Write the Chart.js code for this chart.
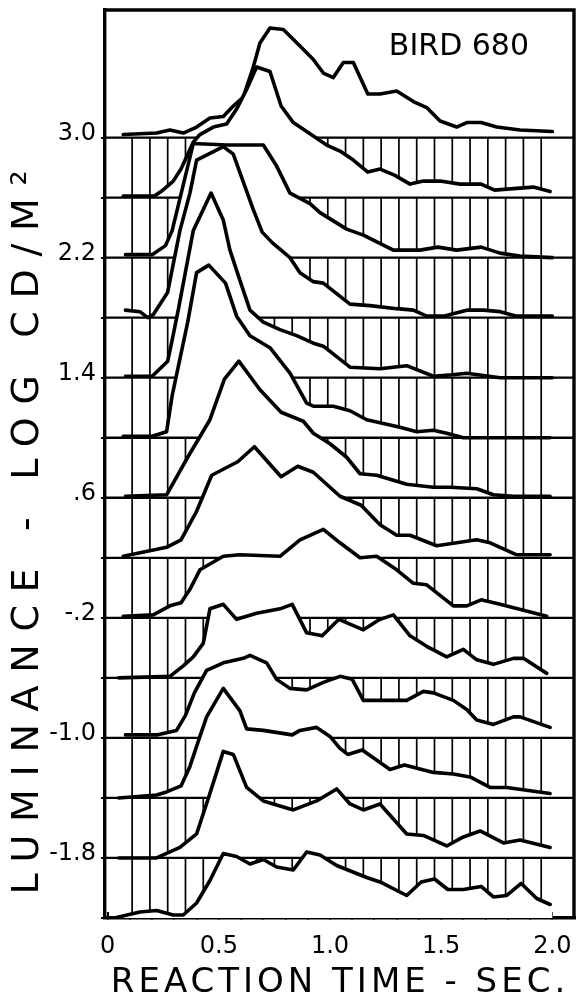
<!doctype html>
<html>

<head>
    <meta charset="utf-8">
    <script src="https://cdn.jsdelivr.net/npm/chart.js@4.4.1/dist/chart.umd.min.js"></script>
    <style>
        html, body {
            margin: 0;
            padding: 0;
            background: #fff;
        }

        canvas {
            display: block;
        }
    </style>
</head>

<body>
    <canvas id="chart" width="576" height="1004"></canvas>
    <script>
        // baseline of each distribution, log cd/m2 (top curve first)
        const luminance = [3.0, 2.6, 2.2, 1.8, 1.4, 1.0, 0.6, 0.2, -0.2, -0.6, -1.0, -1.4, -1.8, -2.2];
        const yTickLabels = ['3.0', '', '2.2', '', '1.4', '', '.6', '', '-.2', '', '-1.0', '', '-1.8', ''];

        const xTickValues = [0, 0.1, 0.2, 0.3, 0.4, 0.5, 0.6, 0.7, 0.8, 0.9, 1.0,
            1.1, 1.2, 1.3, 1.4, 1.5, 1.6, 1.7, 1.8, 1.9, 2.0];
        const xTickLabels = ['0', '', '', '', '', '0.5', '', '', '', '', '1.0',
            '', '', '', '', '1.5', '', '', '', '', '2.0'];

        // times of the vertical hatch strokes under each baseline
        const hatchTimes = [0.11, 0.19, 0.27, 0.35, 0.43, 0.51, 0.59, 0.67, 0.75, 0.83, 0.91, 0.99,
            1.07, 1.15, 1.23, 1.31, 1.39, 1.47, 1.55, 1.63, 1.71, 1.79, 1.87, 1.95];

        // [reaction time (s), height above own baseline (log units)]
        const rtLum30 = [[0.07, 0.02], [0.22, 0.03], [0.28, 0.05], [0.34, 0.03], [0.40, 0.07], [0.46, 0.13],
            [0.52, 0.14], [0.565, 0.21], [0.61, 0.27], [0.655, 0.47], [0.685, 0.63], [0.73, 0.73], [0.79, 0.72],
            [0.865, 0.61], [0.925, 0.52], [0.97, 0.43], [1.015, 0.40], [1.06, 0.50], [1.105, 0.50], [1.17, 0.29],
            [1.225, 0.29], [1.30, 0.31], [1.375, 0.24], [1.435, 0.20], [1.495, 0.11], [1.57, 0.07], [1.615, 0.10],
            [1.68, 0.10], [1.75, 0.07], [1.855, 0.05], [2.0, 0.04]];
        const rtLum26 = [[0.07, 0.01], [0.21, 0.01], [0.24, 0.04], [0.295, 0.11], [0.33, 0.19], [0.37, 0.32],
            [0.385, 0.37], [0.415, 0.42], [0.475, 0.47], [0.535, 0.49], [0.58, 0.59], [0.625, 0.72], [0.67, 0.87],
            [0.73, 0.84], [0.78, 0.61], [0.835, 0.50], [0.925, 0.41], [0.985, 0.35], [1.045, 0.31], [1.105, 0.25],
            [1.17, 0.17], [1.225, 0.19], [1.29, 0.15], [1.36, 0.09], [1.42, 0.11], [1.495, 0.11], [1.585, 0.09],
            [1.68, 0.09], [1.74, 0.05], [1.825, 0.06], [1.915, 0.07], [1.99, 0.04]];
        const rtLum22 = [[0.08, 0.02], [0.20, 0.02], [0.26, 0.08], [0.29, 0.18], [0.385, 0.76], [0.535, 0.75],
            [0.70, 0.75], [0.76, 0.61], [0.82, 0.43], [0.91, 0.36], [0.955, 0.30], [1.075, 0.19], [1.15, 0.15],
            [1.285, 0.05], [1.405, 0.05], [1.485, 0.07], [1.57, 0.05], [1.68, 0.07], [1.765, 0.03], [1.855, 0.01],
            [2.0, 0.0]];
        const rtLum18 = [[0.08, 0.05], [0.145, 0.04], [0.18, 0.0], [0.205, 0.02], [0.27, 0.17], [0.29, 0.32],
            [0.325, 0.58], [0.37, 0.83], [0.40, 1.05], [0.52, 1.14], [0.565, 1.09], [0.655, 0.72], [0.695, 0.57],
            [0.74, 0.50], [0.82, 0.40], [0.865, 0.30], [0.925, 0.24], [0.97, 0.23], [1.09, 0.09], [1.18, 0.08],
            [1.30, 0.06], [1.375, 0.05], [1.435, 0.01], [1.51, 0.01], [1.615, 0.05], [1.69, 0.05], [1.765, 0.04],
            [1.84, 0.01], [2.0, 0.01]];
        const rtLum14 = [[0.08, 0.01], [0.20, 0.01], [0.27, 0.11], [0.29, 0.25], [0.32, 0.47], [0.385, 0.98],
            [0.465, 1.23], [0.52, 1.05], [0.55, 0.85], [0.59, 0.67], [0.64, 0.45], [0.70, 0.37], [0.775, 0.32],
            [0.85, 0.28], [0.925, 0.23], [0.97, 0.21], [1.09, 0.07], [1.225, 0.06], [1.345, 0.08], [1.465, 0.01],
            [1.55, 0.02], [1.615, 0.03], [1.765, 0.0], [2.0, 0.0]];
        const rtLum10 = [[0.07, 0.01], [0.20, 0.01], [0.265, 0.04], [0.29, 0.28], [0.36, 0.77], [0.40, 1.10],
            [0.455, 1.15], [0.53, 1.03], [0.58, 0.81], [0.64, 0.68], [0.73, 0.60], [0.82, 0.43], [0.895, 0.23],
            [0.925, 0.21], [1.015, 0.21], [1.09, 0.18], [1.165, 0.12], [1.315, 0.07], [1.39, 0.04], [1.465, 0.05],
            [1.525, 0.03], [1.60, 0.0], [1.99, 0.0]];
        const rtLum06 = [[0.08, 0.01], [0.265, 0.02], [0.36, 0.27], [0.46, 0.52], [0.525, 0.79],
            [0.59, 0.91], [0.685, 0.72], [0.78, 0.57], [0.88, 0.51], [0.925, 0.43], [1.0, 0.36], [1.075, 0.27],
            [1.135, 0.16], [1.21, 0.15], [1.345, 0.09], [1.465, 0.07], [1.54, 0.07], [1.66, 0.06], [1.735, 0.02],
            [1.825, 0.01], [1.99, 0.01]];
        const rtLum02 = [[0.07, 0.01], [0.265, 0.07], [0.33, 0.12], [0.40, 0.31], [0.468, 0.55],
            [0.585, 0.64], [0.66, 0.74], [0.78, 0.54], [0.855, 0.61], [0.925, 0.57],
            [1.045, 0.41], [1.14, 0.35], [1.225, 0.22], [1.30, 0.15], [1.36, 0.15], [1.48, 0.08], [1.66, 0.12],
            [1.72, 0.10], [1.84, 0.02], [1.99, 0.02]];
        const rtLumN02 = [[0.07, 0.01], [0.205, 0.02], [0.28, 0.08], [0.33, 0.10], [0.37, 0.19], [0.415, 0.32],
            [0.52, 0.41], [0.595, 0.42], [0.775, 0.41], [0.865, 0.52], [0.97, 0.59], [1.045, 0.50], [1.135, 0.40],
            [1.21, 0.41], [1.30, 0.32], [1.375, 0.23], [1.435, 0.22], [1.555, 0.08], [1.615, 0.08], [1.68, 0.12],
            [1.765, 0.09], [1.975, 0.01]];
        const rtLumN06 = [[0.05, 0.0], [0.28, 0.01], [0.34, 0.08], [0.385, 0.14], [0.43, 0.23], [0.46, 0.46],
            [0.52, 0.49], [0.58, 0.39], [0.67, 0.43], [0.775, 0.46], [0.83, 0.49], [0.895, 0.30], [0.965, 0.28],
            [1.04, 0.39], [1.15, 0.32], [1.225, 0.39], [1.285, 0.42], [1.36, 0.28], [1.435, 0.21], [1.525, 0.14],
            [1.60, 0.19], [1.66, 0.12], [1.735, 0.09], [1.825, 0.13], [1.87, 0.13], [1.975, 0.03]];
        const rtLumN10 = [[0.08, 0.02], [0.22, 0.02], [0.31, 0.05], [0.35, 0.15], [0.39, 0.30], [0.445, 0.45],
            [0.52, 0.50], [0.61, 0.53], [0.64, 0.55], [0.715, 0.50], [0.76, 0.39], [0.82, 0.33], [0.895, 0.32],
            [0.97, 0.37], [1.045, 0.41], [1.10, 0.39], [1.15, 0.25], [1.24, 0.25], [1.345, 0.25], [1.42, 0.31],
            [1.465, 0.30], [1.555, 0.25], [1.615, 0.19], [1.66, 0.12], [1.735, 0.09], [1.825, 0.14], [1.855, 0.14],
            [1.99, 0.07]];
        const rtLumN14 = [[0.05, 0.0], [0.22, 0.02], [0.265, 0.04], [0.33, 0.08], [0.37, 0.21], [0.415, 0.41],
            [0.445, 0.54], [0.52, 0.73], [0.595, 0.58], [0.625, 0.46], [0.70, 0.45], [0.83, 0.42], [0.865, 0.45],
            [0.94, 0.47], [1.0, 0.41], [1.045, 0.33], [1.08, 0.29], [1.145, 0.32], [1.27, 0.19], [1.335, 0.22],
            [1.465, 0.17], [1.555, 0.16], [1.63, 0.14], [1.72, 0.07], [1.795, 0.07], [1.99, 0.03]];
        const rtLumN18 = [[0.05, 0.0], [0.22, 0.0], [0.325, 0.07], [0.40, 0.16], [0.46, 0.43], [0.52, 0.71],
            [0.565, 0.69], [0.625, 0.47], [0.70, 0.38], [0.79, 0.34], [0.835, 0.32], [0.94, 0.38], [1.03, 0.46],
            [1.09, 0.36], [1.15, 0.32], [1.225, 0.36], [1.345, 0.16], [1.42, 0.15], [1.525, 0.08], [1.60, 0.14],
            [1.675, 0.18], [1.78, 0.10], [1.855, 0.12], [1.99, 0.07]];
        const rtLumN22 = [[0.03, 0.0], [0.145, 0.04], [0.22, 0.05], [0.295, 0.02], [0.34, 0.02], [0.40, 0.10],
            [0.46, 0.25], [0.52, 0.43], [0.58, 0.41], [0.64, 0.36], [0.70, 0.39], [0.76, 0.34], [0.835, 0.32],
            [0.895, 0.44], [0.955, 0.42], [1.03, 0.35], [1.165, 0.27], [1.225, 0.24], [1.345, 0.15], [1.41, 0.24],
            [1.47, 0.26], [1.53, 0.19], [1.60, 0.19], [1.68, 0.21], [1.735, 0.14], [1.795, 0.15], [1.86, 0.23],
            [1.93, 0.13], [1.99, 0.09]];

        const curves = [rtLum30, rtLum26, rtLum22, rtLum18, rtLum14, rtLum10, rtLum06,
            rtLum02, rtLumN02, rtLumN06, rtLumN10, rtLumN14, rtLumN18, rtLumN22];

        const birdLabel = 'BIRD 680';
        const xTitle = 'REACTION TIME - SEC.';
        const yTitle = 'LUMINANCE - LOG CD/M\u00B2';

        const X_MIN = -0.012, X_MAX = 2.102;
        const Y_MIN = -2.2, Y_MAX = 3.85;
        const FONT = '"DejaVu Sans", sans-serif';

        // back to front: each curve is filled white so the nearer ones hide the others
        const datasets = [];
        curves.forEach((pts, k) => {
            const base = luminance[k];
            datasets.push({
                label: 'log ' + base,
                data: pts.map(p => ({ x: p[0], y: base + p[1] })),
                borderColor: '#000',
                borderWidth: 3.6,
                borderJoinStyle: 'round',
                borderCapStyle: 'round',
                backgroundColor: '#fff',
                fill: 'start',
                pointRadius: 0,
                tension: 0,
                order: 1000 - 10 * k
            });
            if (k < curves.length - 1) {
                datasets.push({
                    label: 'base ' + base,
                    data: [{ x: X_MIN, y: base }, { x: X_MAX, y: base }],
                    borderColor: '#000',
                    borderWidth: 2.3,
                    fill: false,
                    pointRadius: 0,
                    order: 1000 - 10 * k - 1
                });
                const next = luminance[k + 1];
                const hatch = [];
                hatchTimes.forEach(t => {
                    hatch.push({ x: t, y: base }, { x: t, y: next }, { x: t, y: null });
                });
                datasets.push({
                    label: 'hatch ' + base,
                    data: hatch,
                    borderColor: '#000',
                    borderWidth: 1.7,
                    fill: false,
                    spanGaps: false,
                    pointRadius: 0,
                    order: 1000 - 10 * k - 2
                });
            }
        });

        const frameAndText = {
            id: 'frameAndText',
            afterDraw(chart) {
                const { ctx, chartArea, scales } = chart;
                ctx.save();
                ctx.strokeStyle = '#000';
                ctx.lineWidth = 3.4;
                ctx.beginPath();
                ctx.moveTo(chartArea.left, chartArea.top);
                ctx.lineTo(chartArea.right - 1, chartArea.top);
                ctx.lineTo(chartArea.right - 1, chartArea.bottom);
                ctx.stroke();

                ctx.fillStyle = '#000';
                ctx.textAlign = 'center';
                ctx.textBaseline = 'middle';
                ctx.font = '30px ' + FONT;
                ctx.fillText(birdLabel, scales.x.getPixelForValue(1.58), scales.y.getPixelForValue(3.6));

                ctx.font = '34px ' + FONT;
                ctx.letterSpacing = '4px';
                ctx.fillText(xTitle, (chartArea.left + chartArea.right) / 2, 983);

                ctx.translate(28, 532);
                ctx.rotate(-Math.PI / 2);
                ctx.font = '38px ' + FONT;
                ctx.letterSpacing = '12.7px';
                ctx.fillText(yTitle, 6, 0);
                ctx.restore();
            }
        };

        const config = {
            type: 'line',
            data: { datasets: datasets },
            options: {
                responsive: false,
                animation: false,
                events: [],
                devicePixelRatio: 1,
                layout: { padding: { top: 10, right: 1, left: 0, bottom: 0 } },
                plugins: {
                    legend: { display: false },
                    tooltip: { enabled: false },
                    title: { display: false }
                },
                scales: {
                    x: {
                        type: 'linear',
                        min: X_MIN,
                        max: X_MAX,
                        z: 1,
                        afterBuildTicks: s => { s.ticks = xTickValues.map(v => ({ value: v })); },
                        afterFit: s => {
                            s.height = 86;
                            s.paddingLeft = 0;
                            s.paddingRight = 0;
                        },
                        ticks: {
                            autoSkip: false,
                            maxRotation: 0,
                            padding: 20,
                            color: '#000',
                            font: { family: FONT, size: 24, lineHeight: 1.2 },
                            callback: (v, i) => xTickLabels[i]
                        },
                        grid: { drawOnChartArea: false, drawTicks: true, tickLength: -6, color: '#000', lineWidth: 2 },
                        border: { display: true, color: '#000', width: 3.4 }
                    },
                    y: {
                        type: 'linear',
                        min: Y_MIN,
                        max: Y_MAX,
                        z: 1,
                        afterBuildTicks: s => { s.ticks = luminance.map(v => ({ value: v })); },
                        afterFit: s => {
                            s.width = 105;
                            s.paddingTop = 0;
                            s.paddingBottom = 0;
                        },
                        ticks: {
                            autoSkip: false,
                            padding: 5,
                            labelOffset: -4,
                            color: '#000',
                            font: { family: FONT, size: 24 },
                            callback: (v, i) => yTickLabels[i]
                        },
                        grid: { drawOnChartArea: false, drawTicks: true, tickLength: 4, color: '#000', lineWidth: 2 },
                        border: { display: true, color: '#000', width: 3.4 }
                    }
                }
            },
            plugins: [frameAndText]
        };

        const chart = new Chart(document.getElementById('chart').getContext('2d'), config);
    </script>
</body>

</html>
